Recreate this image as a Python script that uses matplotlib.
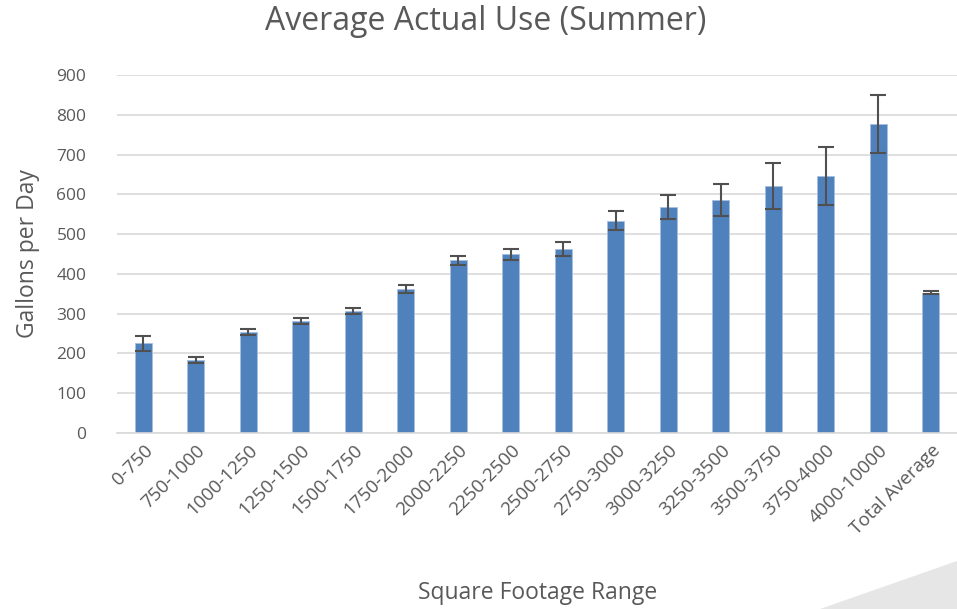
from matplotlib import pyplot as plt
from matplotlib.patches import Polygon
import numpy as np

ranges = ['0-750', '750-1000', '1000-1250', '1250-1500', '1500-1750', '1750-2000',
          '2000-2250', '2250-2500', '2500-2750', '2750-3000', '3000-3250', '3250-3500',
          '3500-3750', '3750-4000', '4000-10000', 'Total Average']
use = [226, 183, 254, 282, 307, 363, 434, 449, 462, 534, 568, 586, 621, 646, 777, 353]
err = [19, 8, 8, 7, 7, 10, 12, 14, 17, 23, 30, 41, 57, 72, 72, 4]

plt.rcParams['font.family'] = ['Open Sans', 'DejaVu Sans']
grey = '#595959'

fig = plt.figure(figsize=(9.57, 6.09), dpi=100)
ax = fig.add_axes([117/957, 1 - 433/609, 840/957, 358/609])

x = np.arange(len(ranges))
ax.bar(x, use, width=0.32, color='#4f81bd', edgecolor='#a7c0e0', linewidth=0.6, zorder=2)
ax.errorbar(x, use, yerr=err, fmt='none', ecolor='#505050', elinewidth=1.5,
            capsize=6, capthick=1.5, zorder=3)

ax.set_xlim(-0.5, len(ranges) - 0.5)
ax.set_ylim(0, 900)
ax.set_yticks(np.arange(0, 901, 100))
ax.yaxis.grid(True, color='#d9d9d9', linewidth=1.2, zorder=0)
ax.set_axisbelow(True)
for s in ['top', 'right', 'left']:
    ax.spines[s].set_visible(False)
ax.spines['bottom'].set_color('#d9d9d9')
ax.spines['bottom'].set_linewidth(1.2)
ax.tick_params(axis='both', length=0, colors=grey)
ax.tick_params(axis='y', pad=22, labelsize=12.5)
ax.tick_params(axis='x', pad=6, labelsize=13.5)
ax.set_xticks(x)
ax.set_xticklabels(ranges, rotation=45, ha='right', rotation_mode='anchor')

fig.text(486/957, 1 - 21/609, 'Average Actual Use (Summer)', fontsize=23, color=grey,
         ha='center', va='center')
ax.set_ylabel('Gallons per Day', fontsize=16.5, color=grey, labelpad=12)
fig.text(538/957, 1 - 593/609, 'Square Footage Range', fontsize=16.5, color=grey,
         ha='center', va='center')

# slide decoration in the corner
fig.patches.append(Polygon([[820/957, 0], [1, 48/609], [1, 0]], closed=True,
                           transform=fig.transFigure, facecolor='#e6e6e6',
                           edgecolor='none', zorder=0))

fig.savefig('out.png', dpi=100)
